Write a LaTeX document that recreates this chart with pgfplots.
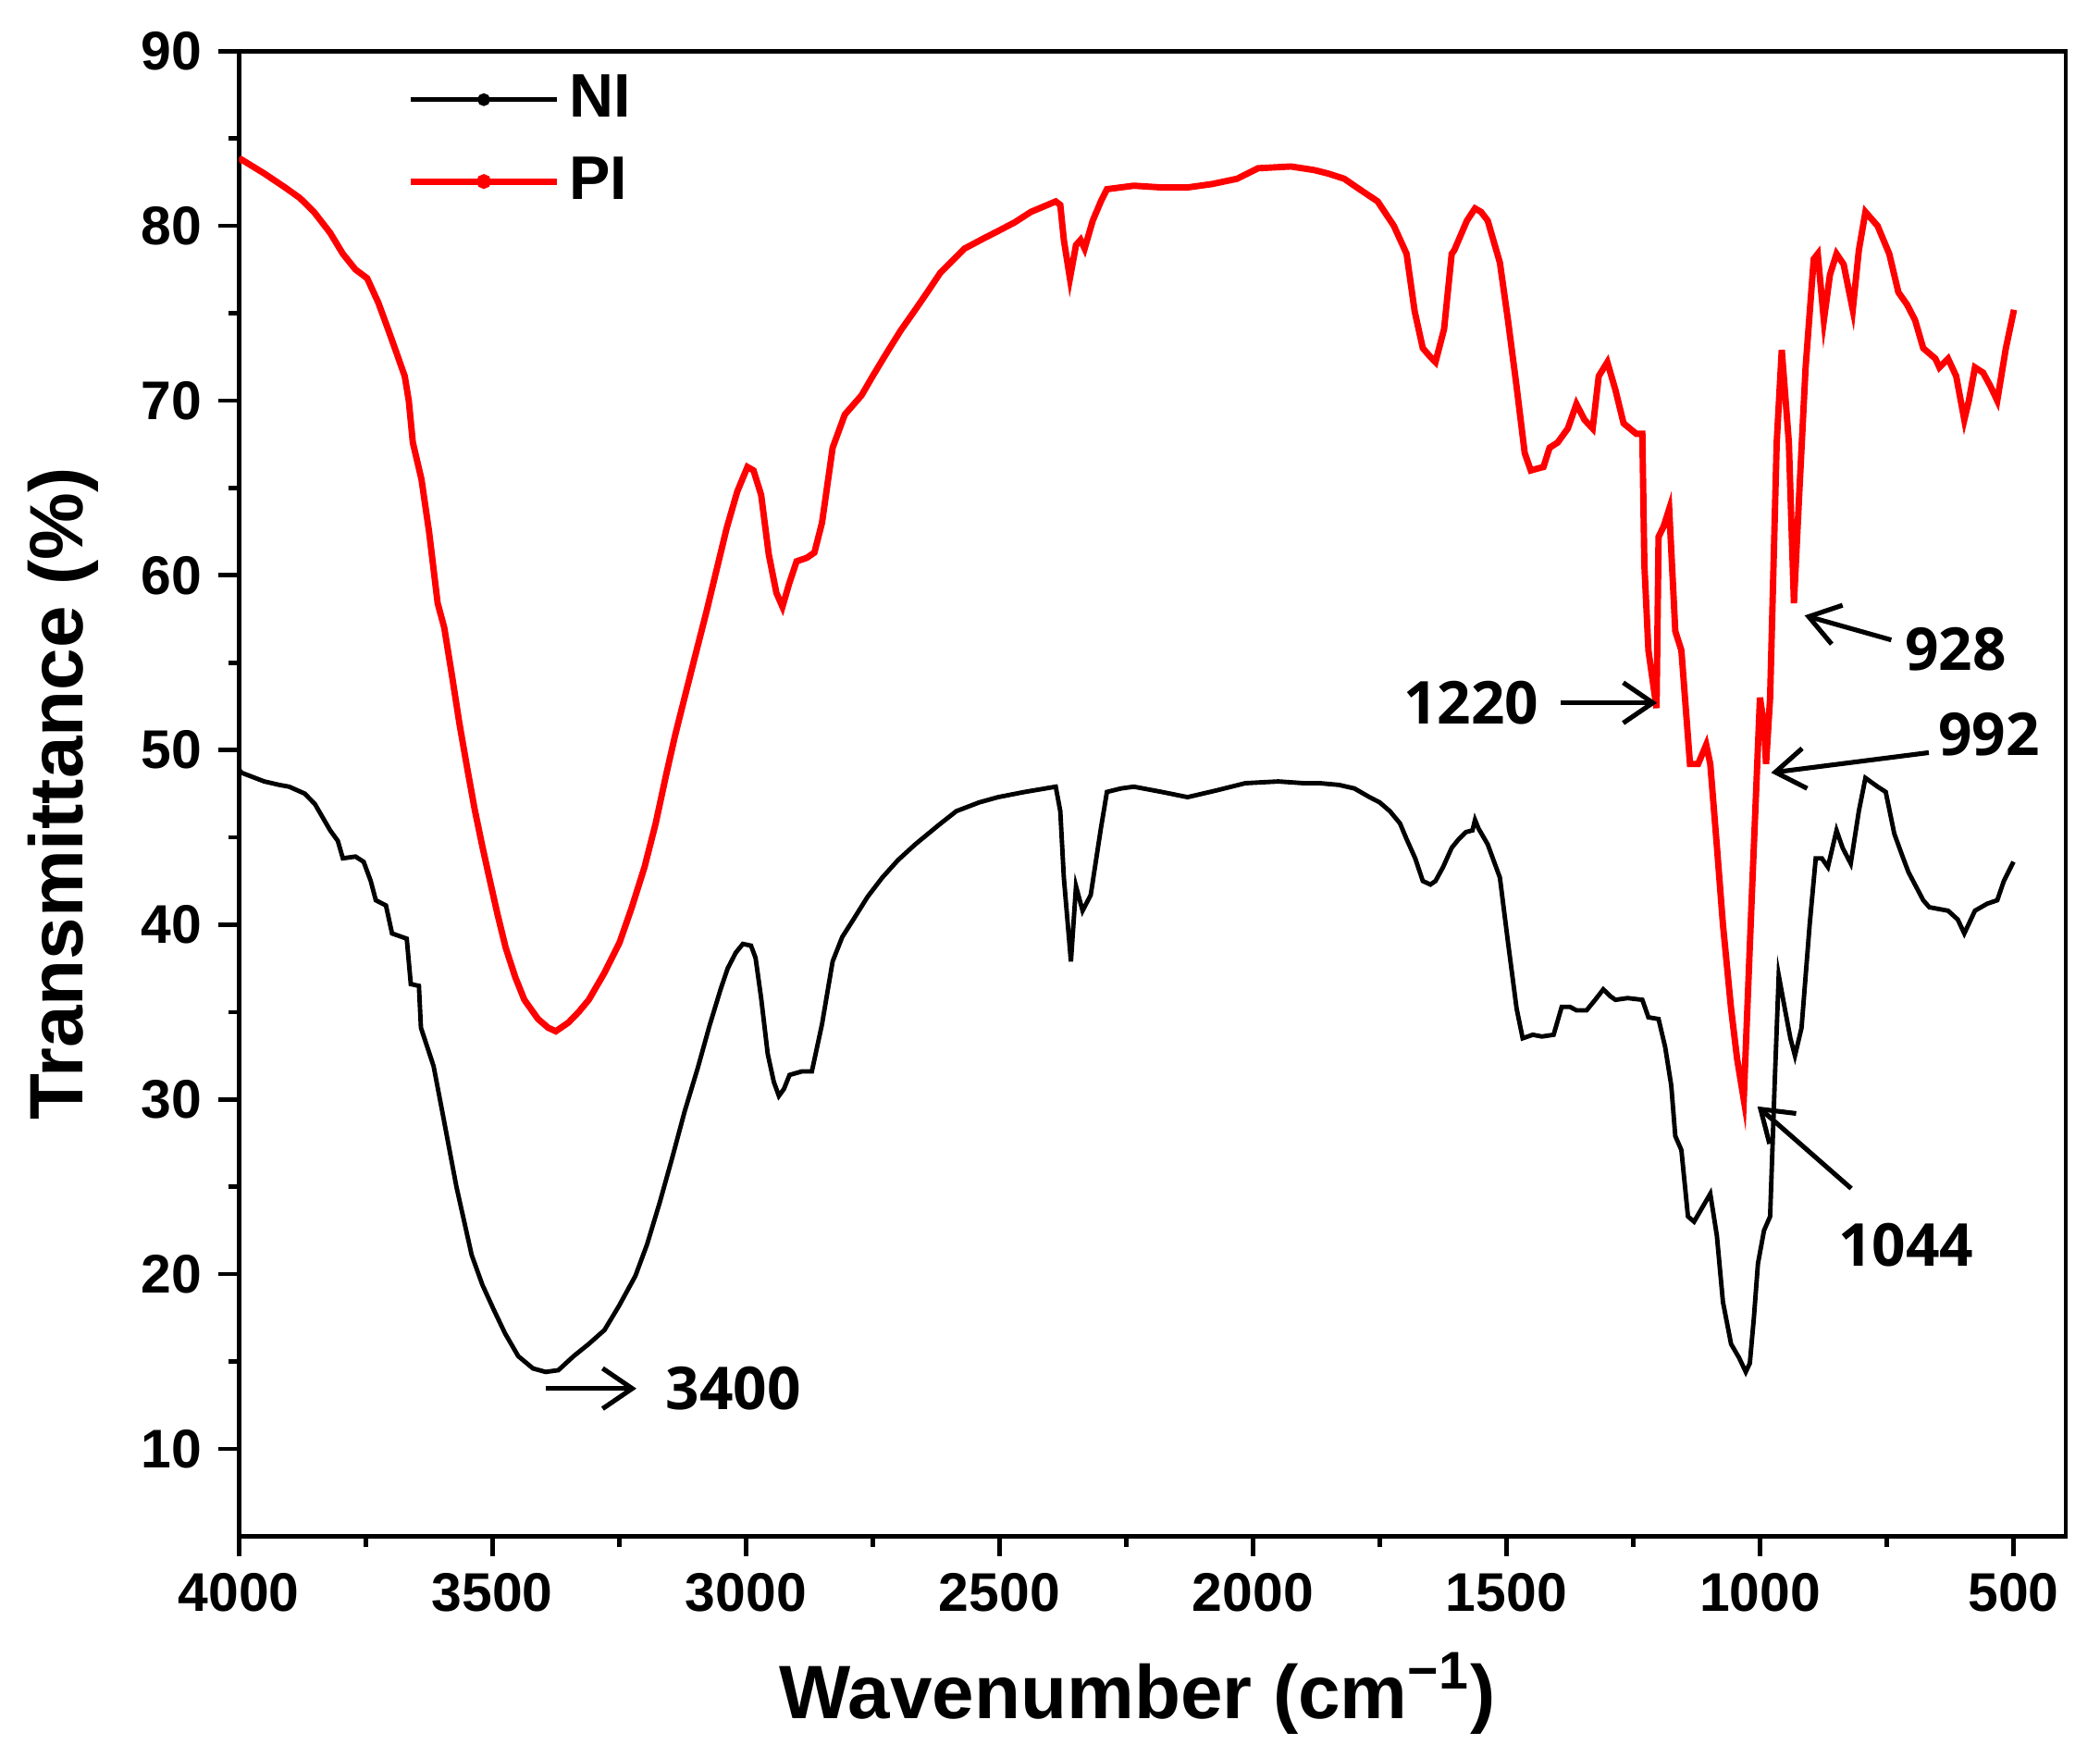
\documentclass[border=0pt]{standalone}
\usepackage{pgfplots}
\pgfplotsset{compat=1.18}
\usepackage{fontspec}
\setmainfont{Liberation Sans}
\newfontfamily\annfont{Open Sans}
\usetikzlibrary{arrows.meta}
\begin{document}
\begin{tikzpicture}
\path[use as bounding box] (0,0) rectangle (15.6cm,13.05cm);
\begin{axis}[
  at={(1.775cm,1.64cm)}, anchor=south west,
  scale only axis, width=13.57cm, height=11.03cm,
  x dir=reverse, xmin=397, xmax=4000, ymin=5, ymax=90,
  xtick={500,1000,...,4000}, ytick={10,20,...,90},
  minor x tick num=1, minor y tick num=1,
  tick align=outside, major tick length=0.15cm, minor tick length=0.08cm,
  xtick pos=bottom, ytick pos=left,
  axis line style={line width=0.9pt}, every tick/.style={line width=0.9pt, black},
  /pgf/number format/assume math mode=true,
  /pgf/number format/1000 sep={},
  ticklabel style={font=\fontsize{11.5}{13}\selectfont\bfseries},
  xlabel={Wavenumber (cm\textsuperscript{−1})},
  ylabel={Transmittance (\%)},
  label style={font=\fontsize{16}{18}\selectfont\bfseries},
  xlabel style={at={(axis description cs:0.492,-0.106)}, anchor=center},
  ylabel style={at={(axis description cs:-0.0962,0.5)}, anchor=center},
  legend style={at={(axis description cs:0.092,0.991)}, anchor=north west, draw=none, fill=none,
    font=\fontsize{13}{14}\selectfont\bfseries, row sep=0.10cm, inner sep=0pt},
  legend cell align=left,
  legend image code/.code={\draw[#1] (0cm,0cm) -- (1.08cm,0cm); \fill[#1] (0.54cm,0cm) circle (0.03cm);},
]
\addplot[black, line width=0.95pt] coordinates {
(4000,48.9) (3995,48.7) (3950,48.2) (3920,48.0) (3901,47.9) (3870,47.5) (3850,46.9) (3820,45.4) (3805,44.8) (3795,43.8) (3770,43.9) (3754,43.6) (3740,42.5) (3730,41.4) (3710,41.1) (3698,39.5) (3669,39.2) (3661,36.6) (3645,36.5) (3641,34.1) (3616,31.9) (3595,28.7) (3571,25.0) (3541,21.1) (3520,19.4) (3498,18.0) (3475,16.6) (3449,15.3) (3420,14.6) (3395,14.4) (3370,14.5) (3340,15.3) (3310,16.0) (3279,16.8) (3250,18.2) (3218,19.9) (3195,21.7) (3170,24.1) (3145,26.7) (3121,29.3) (3095,31.8) (3072,34.2) (3050,36.3) (3036,37.5) (3020,38.4) (3006,38.9) (2990,38.8) (2981,38.1) (2970,35.8) (2957,32.6) (2945,31.0) (2935,30.2) (2925,30.6) (2914,31.4) (2890,31.6) (2870,31.6) (2850,34.3) (2829,37.9) (2810,39.3) (2788,40.3) (2760,41.6) (2731,42.7) (2700,43.7) (2666,44.6) (2620,45.7) (2585,46.5) (2540,47.0) (2503,47.3) (2450,47.6) (2389,47.9) (2380,46.5) (2373,42.7) (2359,37.9) (2349,42.2) (2336,40.8) (2320,41.7) (2300,45.5) (2288,47.6) (2260,47.8) (2235,47.9) (2180,47.6) (2129,47.3) (2070,47.7) (2015,48.1) (1950,48.2) (1900,48.1) (1868,48.1) (1830,48.0) (1800,47.8) (1770,47.3) (1750,47.0) (1730,46.5) (1710,45.8) (1697,44.9) (1680,43.8) (1665,42.5) (1650,42.3) (1640,42.5) (1625,43.3) (1608,44.4) (1594,44.9) (1580,45.3) (1567,45.4) (1562,46.0) (1555,45.5) (1537,44.6) (1513,42.7) (1497,39.0) (1480,35.2) (1468,33.5) (1448,33.7) (1430,33.6) (1407,33.7) (1391,35.3) (1375,35.3) (1362,35.1) (1342,35.1) (1325,35.7) (1309,36.3) (1295,35.9) (1285,35.7) (1261,35.8) (1232,35.7) (1220,34.7) (1200,34.6) (1187,33.0) (1175,30.8) (1167,27.9) (1155,27.1) (1142,23.3) (1130,23.0) (1114,23.8) (1098,24.6) (1085,22.2) (1073,18.4) (1057,16.0) (1041,15.2) (1028,14.4) (1020,14.9) (1012,17.5) (1004,20.6) (992,22.5) (980,23.3) (971,30.9) (963,37.1) (951,35.2) (940,33.5) (931,32.5) (918,34.1) (902,40.0) (890,43.8) (878,43.8) (866,43.3) (849,45.4) (837,44.4) (821,43.5) (805,46.5) (792,48.4) (768,47.9) (752,47.6) (735,45.2) (720,44.0) (707,43.0) (678,41.4) (666,41.0) (629,40.8) (610,40.3) (597,39.5) (576,40.8) (552,41.2) (532,41.4) (519,42.5) (500,43.6)
};
\addlegendentry{NI}
\addplot[red, line width=1.35pt] coordinates {
(4000,83.7) (3995,83.8) (3950,83.0) (3909,82.2) (3880,81.6) (3852,80.8) (3820,79.6) (3795,78.4) (3770,77.5) (3747,77.0) (3725,75.6) (3706,74.1) (3690,72.8) (3673,71.4) (3665,70.0) (3657,67.6) (3640,65.5) (3625,62.5) (3608,58.4) (3595,57.0) (3580,54.3) (3565,51.5) (3550,49.0) (3535,46.6) (3520,44.5) (3504,42.4) (3490,40.6) (3474,38.7) (3455,37.0) (3437,35.7) (3410,34.6) (3390,34.1) (3375,33.9) (3350,34.4) (3330,35.0) (3310,35.7) (3280,37.2) (3249,39.0) (3225,41.0) (3200,43.3) (3178,45.8) (3158,48.5) (3140,50.8) (3121,53.0) (3100,55.4) (3078,57.9) (3058,60.3) (3038,62.7) (3017,64.8) (2997,66.2) (2985,66.0) (2970,64.6) (2955,61.2) (2940,59.0) (2928,58.2) (2915,59.5) (2900,60.8) (2880,61.0) (2865,61.3) (2850,63.0) (2829,67.3) (2805,69.2) (2772,70.3) (2750,71.4) (2723,72.7) (2695,74.0) (2666,75.2) (2640,76.3) (2617,77.3) (2569,78.7) (2530,79.3) (2503,79.7) (2470,80.2) (2438,80.8) (2389,81.4) (2380,81.2) (2373,79.2) (2361,77.0) (2349,78.9) (2340,79.2) (2332,78.7) (2316,80.3) (2300,81.4) (2288,82.1) (2235,82.3) (2180,82.2) (2129,82.2) (2080,82.4) (2031,82.7) (1990,83.3) (1925,83.4) (1880,83.2) (1852,83.0) (1820,82.7) (1795,82.2) (1754,81.4) (1722,80.0) (1697,78.4) (1681,75.1) (1665,73.0) (1650,72.5) (1640,72.2) (1623,74.1) (1608,78.4) (1603,78.6) (1578,80.3) (1562,81.0) (1550,80.8) (1537,80.3) (1513,77.9) (1497,74.6) (1480,70.8) (1464,67.0) (1452,66.0) (1440,66.1) (1427,66.2) (1415,67.3) (1399,67.6) (1379,68.4) (1362,69.8) (1346,68.9) (1330,68.4) (1318,71.4) (1301,72.2) (1285,70.6) (1269,68.7) (1244,68.1) (1232,68.1) (1228,60.6) (1220,55.7) (1204,52.4) (1200,62.2) (1190,62.8) (1179,63.8) (1167,56.8) (1155,55.7) (1138,49.2) (1122,49.2) (1106,50.3) (1098,49.2) (1085,44.5) (1073,40.0) (1057,35.2) (1045,32.3) (1032,30.0) (1016,41.7) (1000,53.0) (992,51.4) (988,49.2) (980,53.0) (967,67.6) (957,72.9) (943,67.6) (933,58.4) (923,64.4) (910,71.9) (894,78.1) (886,78.4) (874,74.6) (862,77.2) (849,78.4) (835,77.8) (817,75.2) (805,78.6) (792,80.8) (768,80.0) (745,78.4) (727,76.2) (710,75.5) (694,74.6) (678,73.0) (654,72.4) (646,71.9) (629,72.4) (613,71.4) (597,68.9) (588,70.0) (576,71.9) (560,71.6) (545,70.8) (532,70.0) (515,73.0) (499,75.2)
};
\addlegendentry{PI}
\draw[-{Straight Barb[length=2.2mm,width=3mm]}, line width=1pt] (axis cs:3395,13.45) -- (axis cs:3216,13.45);
\node[font=\annfont\bfseries\fontsize{12.5}{14}\selectfont] at (axis cs:3025,13.45) {3400};
\draw[-{Straight Barb[length=2.2mm,width=3mm]}, line width=1pt] (axis cs:1393,52.7) -- (axis cs:1203,52.7);
\node[font=\annfont\bfseries\fontsize{12.5}{14}\selectfont] at (axis cs:1570,52.7) {1220};
\draw[-{Straight Barb[length=2.2mm,width=3mm]}, line width=1pt] (axis cs:741,56.3) -- (axis cs:912,57.7);
\node[font=\annfont\bfseries\fontsize{12.5}{14}\selectfont] at (axis cs:614,55.75) {928};
\draw[-{Straight Barb[length=2.2mm,width=3mm]}, line width=1pt] (axis cs:667,49.85) -- (axis cs:978,48.7);
\node[font=\annfont\bfseries\fontsize{12.5}{14}\selectfont] at (axis cs:548,50.9) {992};
\draw[-{Straight Barb[length=2.2mm,width=3mm]}, line width=1pt] (axis cs:820,24.9) -- (axis cs:1005,29.6);
\node[font=\annfont\bfseries\fontsize{12.5}{14}\selectfont] at (axis cs:712,21.65) {1044};
\end{axis}
\end{tikzpicture}
\end{document}
